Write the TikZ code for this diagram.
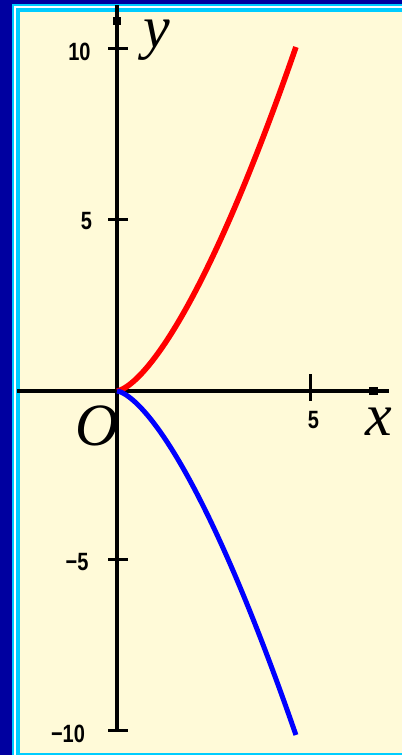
\documentclass[tikz,border=0pt]{standalone}
\usepackage{fontspec}
\setmainfont{Liberation Serif}
\newfontfamily\ticksans{Liberation Sans}
\definecolor{dkblue}{HTML}{0000A0}
\definecolor{cyanb}{HTML}{00CCFF}
\definecolor{cream}{HTML}{FFFAD8}
\begin{document}
\begin{tikzpicture}[x=1pt,y=-1pt,
  axisline/.style={line width=3.2pt,black},
  tickline/.style={line width=3pt,black},
  ticklab/.style={inner sep=0pt,font=\ticksans\bfseries\fontsize{25}{25}\selectfont},
  varlab/.style={inner sep=0pt,font=\fontsize{60}{60}\selectfont\itshape}]
\useasboundingbox (0,0) rectangle (402,755);
% frame
\fill[dkblue] (0,0) rectangle (402,755);
\fill[cyanb] (12.3,4) rectangle (402,755);
\fill[white] (14.3,5.7) rectangle (402,755);
\fill[cyanb] (16.3,7.7) rectangle (402,755);
\fill[cream] (19.7,11.7) rectangle (402,752.5);
% axes
\coordinate (ytop) at (117,5);
\coordinate (ybot) at (117,730);
\coordinate (xl) at (17,391);
\coordinate (xr) at (389,391);
\draw[axisline] (ytop) -- (ybot);
\draw[axisline] (xl) -- (xr);
\fill[black] (113,17) rectangle (121,25);
\fill[black] (369,387) rectangle (378,395);
% ticks
\foreach \yy in {48,219,559,730} \draw[tickline] (108,\yy) -- (128,\yy);
\draw[tickline] (310,374) -- (310,401);
% tick labels
\node[ticklab] (t10) at (79.5,52) {\scalebox{0.8}[1]{10}};
\node[ticklab] (t5) at (86.5,221) {\scalebox{0.8}[1]{5}};
\node[ticklab] (tm5) at (77,562) {\scalebox{0.8}[1]{\char"2212 5}};
\node[ticklab] (tm10) at (68,733.5) {\scalebox{0.8}[1]{\char"2212 10}};
\node[ticklab] (tx5) at (313.5,420) {\scalebox{0.8}[1]{5}};
% variable labels
\node[varlab,anchor=base,text height=28pt,text depth=13pt] (ylab) at (157,47) {y};
\node[varlab,anchor=base] (olab) at (97,445) {O};
\node[varlab,anchor=base] (xlab) at (379,435) {x};
% curves
\draw[red,line width=5.6pt] plot[domain=0:4.66,samples=90,variable=\t] ({117+38.4*\t},{391-34.2*\t*sqrt(\t)});
\draw[blue,line width=5pt] plot[domain=0:4.66,samples=90,variable=\t] ({117+38.4*\t},{391+34.2*\t*sqrt(\t)});
\end{tikzpicture}
\end{document}
